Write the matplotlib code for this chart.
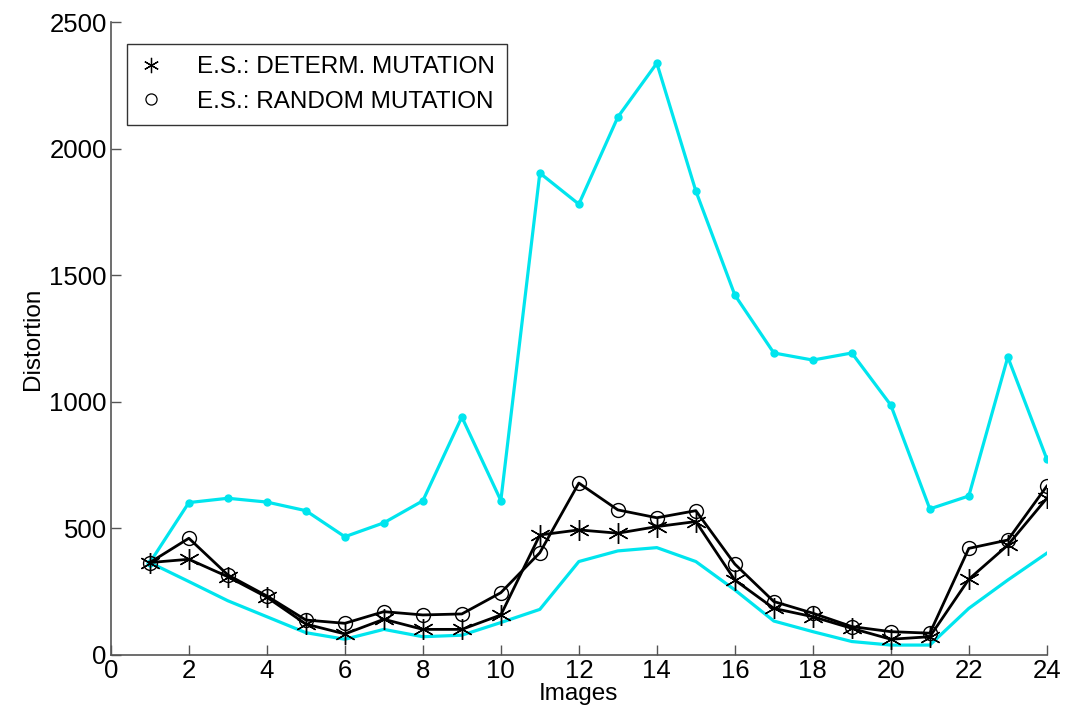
import matplotlib.pyplot as plt
from matplotlib.lines import Line2D
import numpy as np

plt.rcParams['font.family'] = ['Liberation Sans', 'DejaVu Sans']

images = np.arange(1, 25)
upper = [365, 602, 619, 604, 570, 467, 522, 609, 940, 610, 1904, 1781, 2125, 2338,
         1833, 1422, 1193, 1165, 1193, 987, 577, 628, 1177, 774]
lower = [365, 290, 214, 151, 88, 62, 101, 72, 78, 128, 180, 369, 411, 424,
         369, 257, 134, 92, 53, 39, 39, 184, 296, 402]
determ = [365, 378, 309, 228, 122, 83, 141, 101, 101, 158, 474, 494, 481, 507,
          527, 296, 184, 151, 105, 62, 72, 299, 434, 619]
random_mut = [365, 461, 316, 233, 138, 125, 171, 158, 162, 246, 404, 679, 573, 542,
              570, 359, 211, 165, 112, 92, 86, 421, 454, 667]

fig = plt.figure(figsize=(10.66, 7.15), dpi=100)
ax = fig.add_axes([0.104, 0.084, 0.878, 0.885])

cyan = '#00e5ee'
ax.plot(images, upper, color=cyan, lw=2.3, marker='o', ms=5, zorder=2)
ax.plot(images, lower, color=cyan, lw=2.3, zorder=2)
ax.plot(images, determ, color='black', lw=2, marker=(6, 2, 0), ms=15, mew=1, zorder=3)
ax.plot(images, random_mut, color='black', lw=2, marker='o', ms=10, mfc='none', mew=1, zorder=3)

ax.set_xlim(0, 24)
ax.set_ylim(0, 2500)
ax.set_xticks(np.arange(0, 25, 2))
ax.set_yticks(np.arange(0, 2501, 500))
ax.spines['top'].set_visible(False)
ax.spines['right'].set_visible(False)
for s in ['left', 'bottom']:
    ax.spines[s].set_color('#555555')
    ax.spines[s].set_linewidth(1.2)
ax.tick_params(direction='in', length=7, width=1, color='#555555', labelsize=18.5, pad=3)

ax.set_xlabel('Images', fontsize=17.5, labelpad=0)
ax.set_ylabel('Distortion', fontsize=17.5, labelpad=4)

handles = [Line2D([], [], ls='none', marker=(6, 2, 0), color='black', ms=11, mew=0.9),
           Line2D([], [], ls='none', marker='o', mfc='none', mec='black', ms=8, mew=0.9)]
leg = ax.legend(handles, ['E.S.: DETERM. MUTATION', 'E.S.: RANDOM MUTATION'],
                loc='upper left', bbox_to_anchor=(0.017, 0.965), fontsize=17.5,
                frameon=True, fancybox=False, edgecolor='black', handlelength=1.0,
                handletextpad=1.4, borderpad=0.5, labelspacing=0.5, borderaxespad=0)
leg.get_frame().set_linewidth(1.0)

fig.savefig('out.png', dpi=100)
